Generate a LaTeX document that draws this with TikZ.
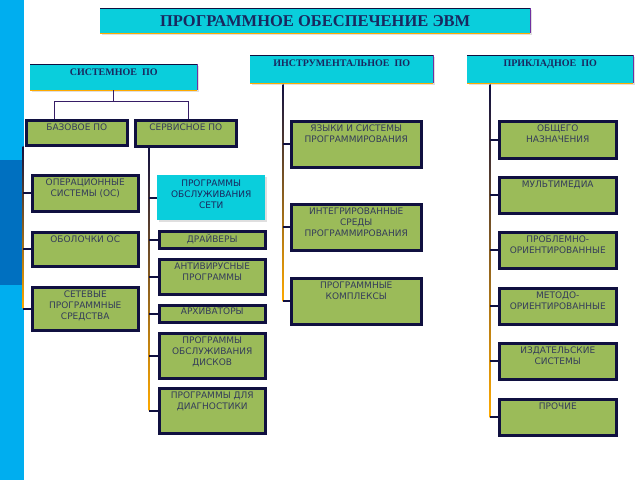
\documentclass[tikz,border=0pt]{standalone}
\usepackage{fontspec}
\usepackage{tikz}
\usetikzlibrary{shadows,calc}
\newfontfamily\boxfont{DejaVu Sans}
\newfontfamily\headfont{Liberation Serif}
\definecolor{poCyan}{RGB}{10,206,220}
\definecolor{poGreen}{RGB}{155,187,89}
\definecolor{poNavy}{RGB}{16,16,64}
\definecolor{poText}{RGB}{52,60,90}
\definecolor{poTitle}{RGB}{25,40,95}
\definecolor{poSky}{RGB}{0,174,239}
\definecolor{poBlue}{RGB}{0,112,192}
\definecolor{poPurple}{RGB}{112,48,160}
\definecolor{poOrange}{RGB}{255,170,0}

\begin{document}
\begin{tikzpicture}[x=1pt,y=-1pt,
  gbox/.style={draw=poNavy,line width=2.5pt,fill=poGreen,inner sep=0pt,anchor=north west,
    drop shadow={opacity=0.25,shadow xshift=1.5pt,shadow yshift=-1.5pt}},
  hbox/.style={fill=poCyan,inner sep=0pt,anchor=north west,
    drop shadow={opacity=0.25,shadow xshift=1.5pt,shadow yshift=-1.5pt}},
  gtxt/.style={anchor=north,yshift=-5pt,inner sep=0pt,align=center,text=poText,
    font=\boxfont\fontsize{9}{10.7}\selectfont},
  htxt/.style={anchor=north,yshift=-5pt,inner sep=0pt,text=poTitle,
    font=\headfont\bfseries\fontsize{10}{12}\selectfont},
  trunk/.style={line width=0.8pt,color=poPurple!40!poNavy},
  trunkshade/.style={top color=poNavy,middle color=poPurple!80!poNavy,bottom color=poOrange},
  tick/.style={line width=2pt,color=poNavy}]
\useasboundingbox (0,0) rectangle (640,480);
%\draw[help lines] (0,0) grid[step=20] (640,480);
\fill[poSky] (0,0) rectangle (24,480);
\fill[poBlue] (0,160) rectangle (24,285);

% headers
\node[hbox,minimum width=430,minimum height=25,text=poTitle,
  font=\headfont\bfseries\fontsize{16.5}{18}\selectfont] (title) at (100,8) {ПРОГРАММНОЕ ОБЕСПЕЧЕНИЕ ЭВМ};
\node[hbox,minimum width=167,minimum height=26,label={[htxt]north:{СИСТЕМНОЕ~~ПО}}] (sys) at (30,64) {};
\node[hbox,minimum width=183,minimum height=28,label={[htxt]north:{ИНСТРУМЕНТАЛЬНОЕ~~ПО}}] (inst) at (250,55) {};
\node[hbox,minimum width=166,minimum height=28,label={[htxt]north:{ПРИКЛАДНОЕ~~ПО}}] (appl) at (467,55) {};
\foreach \h in {title,sys,inst,appl} {
  \draw[poNavy,line width=1pt] (\h.north west) -- (\h.north east);
  \draw[poPurple,line width=1pt] (\h.north east) -- (\h.south east);
  \draw[poOrange,line width=1.2pt] (\h.south west) -- (\h.south east);
}

% system software
\node[gbox,minimum width=101,minimum height=25,label={[gtxt]north:{БАЗОВОЕ ПО}}] (base) at (25,119) {};
\node[gbox,minimum width=101,minimum height=26,label={[gtxt]north:{СЕРВИСНОЕ ПО}}] (serv) at (134,119) {};
\node[gbox,minimum width=106,minimum height=36,label={[gtxt]north:{ОПЕРАЦИОННЫЕ\\СИСТЕМЫ (ОС)}}] (os) at (31,174) {};
\node[gbox,minimum width=106,minimum height=34,label={[gtxt]north:{ОБОЛОЧКИ ОС}}] (shell) at (31,231) {};
\node[gbox,minimum width=106,minimum height=43,label={[gtxt]north:{СЕТЕВЫЕ\\ПРОГРАММНЫЕ\\СРЕДСТВА}}] (netsw) at (31,286) {};
\node[hbox,minimum width=108,minimum height=45,label={[gtxt,text=poTitle]north:{ПРОГРАММЫ\\ОБСЛУЖИВАНИЯ\\СЕТИ}}] (netsrv) at (157,175) {};
\node[gbox,minimum width=106,minimum height=17,label={[gtxt,yshift=1pt]north:{ДРАЙВЕРЫ}}] (drv) at (158,230) {};
\node[gbox,minimum width=106,minimum height=35,label={[gtxt]north:{АНТИВИРУСНЫЕ\\ПРОГРАММЫ}}] (av) at (158,258) {};
\node[gbox,minimum width=106,minimum height=17,label={[gtxt,yshift=1pt]north:{АРХИВАТОРЫ}}] (arc) at (158,304) {};
\node[gbox,minimum width=106,minimum height=45,label={[gtxt]north:{ПРОГРАММЫ\\ОБСЛУЖИВАНИЯ\\ДИСКОВ}}] (disk) at (158,332) {};
\node[gbox,minimum width=106,minimum height=45,label={[gtxt]north:{ПРОГРАММЫ ДЛЯ\\ДИАГНОСТИКИ}}] (diag) at (158,387) {};

% instrumental software
\node[gbox,minimum width=130,minimum height=46,label={[gtxt]north:{ЯЗЫКИ И СИСТЕМЫ\\ПРОГРАММИРОВАНИЯ}}] (lang) at (290,120) {};
\node[gbox,minimum width=130,minimum height=46,label={[gtxt]north:{ИНТЕГРИРОВАННЫЕ\\СРЕДЫ\\ПРОГРАММИРОВАНИЯ}}] (ide) at (290,203) {};
\node[gbox,minimum width=130,minimum height=46,label={[gtxt]north:{ПРОГРАММНЫЕ\\КОМПЛЕКСЫ}}] (pkg) at (290,277) {};

% application software
\node[gbox,minimum width=117,minimum height=37,label={[gtxt]north:{ОБЩЕГО\\НАЗНАЧЕНИЯ}}] (gen) at (498,120) {};
\node[gbox,minimum width=117,minimum height=36,label={[gtxt]north:{МУЛЬТИМЕДИА}}] (mm) at (498,176) {};
\node[gbox,minimum width=117,minimum height=36,label={[gtxt]north:{ПРОБЛЕМНО-\\ОРИЕНТИРОВАННЫЕ}}] (prob) at (498,231) {};
\node[gbox,minimum width=117,minimum height=36,label={[gtxt]north:{МЕТОДО-\\ОРИЕНТИРОВАННЫЕ}}] (meth) at (498,287) {};
\node[gbox,minimum width=117,minimum height=36,label={[gtxt]north:{ИЗДАТЕЛЬСКИЕ\\СИСТЕМЫ}}] (pub) at (498,342) {};
\node[gbox,minimum width=117,minimum height=36,label={[gtxt]north:{ПРОЧИЕ}}] (oth) at (498,398) {};

% connectors
\coordinate (sL) at (54,101);
\coordinate (sR) at (188,101);
\coordinate (bT) at (23,146);
\coordinate (vT) at (149,147);
\coordinate (iT) at (283,84);
\coordinate (aT) at (490,84);
\draw[trunk] (sys.south) -- (sys.south |- sL);
\draw[trunk] (sL |- base.north) -- (sL) -- (sR) -- (sR |- serv.north);
\shade[trunkshade] ($(bT)+(-0.5,0)$) rectangle ($(bT |- netsw.west)+(0.5,0)$);
\shade[trunkshade] ($(vT)+(-0.5,0)$) rectangle ($(vT |- diag.west)+(0.5,0)$);
\shade[trunkshade] ($(iT)+(-0.5,0)$) rectangle ($(iT |- pkg.west)+(0.5,0)$);
\shade[trunkshade] ($(aT)+(-0.5,0)$) rectangle ($(aT |- oth.west)+(0.5,0)$);
\foreach \n in {os,shell,netsw}
  \draw[tick] (bT |- \n.west) -- (\n.west);
\foreach \n in {netsrv,drv,av,arc,disk,diag}
  \draw[tick] (vT |- \n.west) -- (\n.west);
\foreach \n in {lang,ide,pkg}
  \draw[tick] (iT |- \n.west) -- (\n.west);
\foreach \n in {gen,mm,prob,meth,pub,oth}
  \draw[tick] (aT |- \n.west) -- (\n.west);
\end{tikzpicture}
\end{document}
